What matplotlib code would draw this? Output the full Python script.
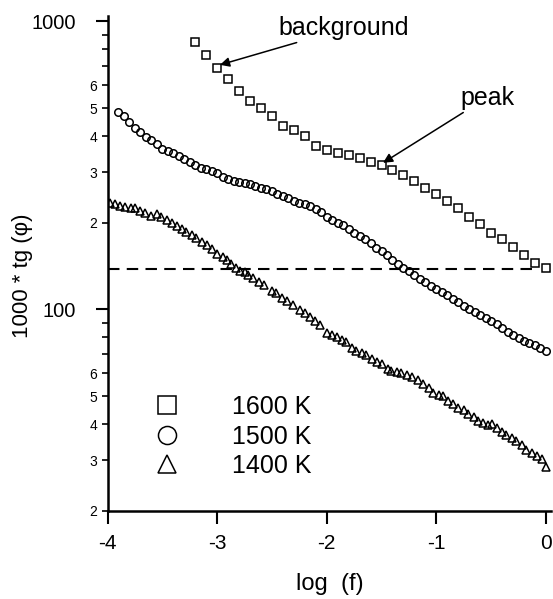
import matplotlib
matplotlib.use('Agg')
import matplotlib.pyplot as plt
from matplotlib.lines import Line2D
from matplotlib.ticker import FixedLocator, FixedFormatter

plt.rcParams['font.family'] = ['Liberation Sans', 'DejaVu Sans']

# ---------------- data ----------------
logf_1600 = [-3.2, -3.1, -3.0, -2.9, -2.8, -2.7, -2.6, -2.5, -2.4, -2.3, -2.2,
             -2.1, -2.0, -1.9, -1.8, -1.7, -1.6, -1.5, -1.4, -1.3, -1.2, -1.1,
             -1.0, -0.9, -0.8, -0.7, -0.6, -0.5, -0.4, -0.3, -0.2, -0.1, 0.0]
tg_1600 = [852, 766, 692, 631, 574, 529, 500, 469, 435, 420, 401,
           370, 358, 349, 344, 335, 326, 317, 305, 293, 280, 264,
           252, 238, 225, 210, 198, 185, 175, 165, 154, 145, 139]

logf_1500 = [-3.90, -3.85, -3.80, -3.75, -3.70, -3.65, -3.60, -3.55, -3.50, -3.45,
             -3.40, -3.35, -3.30, -3.25, -3.20, -3.15, -3.10, -3.05, -3.00, -2.95,
             -2.90, -2.85, -2.80, -2.75, -2.70, -2.65, -2.60, -2.55, -2.50, -2.45,
             -2.40, -2.35, -2.30, -2.25, -2.20, -2.15, -2.10, -2.05, -2.00, -1.95,
             -1.90, -1.85, -1.80, -1.75, -1.70, -1.65, -1.60, -1.55, -1.50, -1.45,
             -1.40, -1.35, -1.30, -1.25, -1.20, -1.15, -1.10, -1.05, -1.00, -0.95,
             -0.90, -0.85, -0.80, -0.75, -0.70, -0.65, -0.60, -0.55, -0.50, -0.45,
             -0.40, -0.35, -0.30, -0.25, -0.20, -0.15, -0.10, -0.05, 0.00]
tg_1500 = [486, 469, 447, 426, 412, 398, 387, 374, 362, 355,
           349, 340, 332, 325, 317, 310, 307, 302, 297, 288,
           283, 280, 276, 274, 272, 268, 265, 261, 257, 252,
           247, 243, 238, 235, 232, 228, 224, 218, 210, 204,
           200, 197, 191, 184, 180, 175, 170, 163, 159, 154,
           149, 144, 139, 136, 132, 128, 124.5, 120.7, 117.3, 114.8,
           112.1, 108.8, 106.3, 103.2, 100.4, 97.9, 95.4, 93.2, 91.1, 88.8,
           86.3, 83.4, 81.5, 79.6, 78.0, 76.3, 75.0, 73.3, 71.8]

logf_1400 = [-3.98, -3.93, -3.89, -3.84, -3.79, -3.75, -3.70, -3.66, -3.60, -3.55,
             -3.51, -3.46, -3.41, -3.37, -3.32, -3.28, -3.23, -3.19, -3.14, -3.09,
             -3.05, -3.00, -2.95, -2.91, -2.87, -2.83, -2.79, -2.75, -2.72, -2.67,
             -2.62, -2.57, -2.50, -2.46, -2.41, -2.36, -2.31, -2.24, -2.20, -2.15,
             -2.11, -2.06, -2.00, -1.95, -1.91, -1.86, -1.82, -1.77, -1.73, -1.68,
             -1.64, -1.59, -1.54, -1.50, -1.44, -1.41, -1.36, -1.32, -1.27, -1.22,
             -1.17, -1.12, -1.07, -1.03, -0.98, -0.94, -0.89, -0.85, -0.80, -0.75,
             -0.71, -0.66, -0.62, -0.57, -0.53, -0.49, -0.45, -0.40, -0.36, -0.31,
             -0.27, -0.22, -0.18, -0.13, -0.08, -0.04, 0.00]
tg_1400 = [235, 233, 229, 227, 225, 225, 220, 216, 211, 215,
           209, 205, 199, 195, 190, 186, 181.5, 176.8, 172, 167.5,
           161.9, 155.9, 151.9, 148.6, 143.9, 139.1, 136.4, 135.3, 131.8, 128.4,
           124.9, 121.7, 116.2, 113.8, 109.4, 107.3, 103.6, 99.2, 97.0, 94.4,
           91.4, 88.3, 83.1, 81.5, 80.1, 78.3, 77.3, 73.3, 71.9, 70.8,
           69.5, 67.1, 65.8, 64.7, 62.0, 61.3, 60.8, 60.0, 59.2, 58.4,
           56.9, 55.1, 53.2, 51.1, 50.5, 50.0, 48.1, 46.8, 45.5, 44.8,
           43.4, 42.2, 41.0, 40.2, 39.7, 40.0, 38.7, 37.5, 36.6, 35.8,
           34.9, 33.7, 32.6, 31.7, 31.0, 30.2, 28.3]

series_labels = ['1600 K', '1500 K', '1400 K']
dashed_level = 138
dashed_span = [-4.0, -0.08]

y_major = [100, 1000]
y_minor = [20, 30, 40, 50, 60, 70, 80, 90, 200, 300, 400, 500, 600, 700, 800, 900]
y_minor_labels = ['2', '3', '4', '5', '6', '', '', '', '2', '3', '4', '5', '6', '', '', '']
x_ticks = [-4, -3, -2, -1, 0]

# ---------------- figure ----------------
fig = plt.figure(figsize=(5.53, 5.99), dpi=100)
ax = fig.add_axes([0.1944, 0.1474, 0.8027, 0.8259])
ax.set_yscale('log')
ax.set_xlim(-4, 0.05)
ax.set_ylim(20, 1045)

mk = dict(ls='none', mfc='none', mec='black')
ax.plot(logf_1600, tg_1600, marker='s', ms=5.6, mew=1.1, **mk)
ax.plot(logf_1500, tg_1500, marker='o', ms=5.4, mew=1.1, **mk)
ax.plot(logf_1400, tg_1400, marker='^', ms=5.4, mew=1.1, **mk)

ax.plot(dashed_span, [dashed_level, dashed_level], color='black', lw=1.5,
        dashes=(5.5, 3.5))

for s in ('top', 'right'):
    ax.spines[s].set_visible(False)
for s in ('left', 'bottom'):
    ax.spines[s].set_linewidth(1.8)

ax.yaxis.set_major_locator(FixedLocator(y_major))
ax.yaxis.set_major_formatter(FixedFormatter([str(v) for v in y_major]))
ax.yaxis.set_minor_locator(FixedLocator(y_minor))
ax.yaxis.set_minor_formatter(FixedFormatter(y_minor_labels))
ax.set_xticks(x_ticks)
ax.set_xticklabels([str(v) for v in x_ticks])

ax.tick_params(axis='y', which='major', length=8.5, width=1.5, labelsize=14.5, pad=14)
ax.tick_params(axis='y', which='minor', length=4.5, width=1.2, labelsize=10, pad=3)
ax.tick_params(axis='x', which='major', length=9, width=1.5, labelsize=15, pad=8)
ax.tick_params(axis='x', which='minor', length=0)

ax.set_xlabel('log  (f)', fontsize=17, labelpad=14)
ax.set_ylabel('1000 * tg (\u03c6)', fontsize=16)
ax.yaxis.set_label_coords(-0.168, 0.474)

# annotations
ax.annotate('', xy=(-2.974, 707), xytext=(-2.274, 845),
            arrowprops=dict(arrowstyle='-|>', color='black', lw=1.1, mutation_scale=14,
                            shrinkA=0, shrinkB=0))
ax.text(-2.444, 951, 'background', fontsize=18, ha='left', va='center')
ax.annotate('', xy=(-1.486, 323), xytext=(-0.754, 483),
            arrowprops=dict(arrowstyle='-|>', color='black', lw=1.1, mutation_scale=14,
                            shrinkA=0, shrinkB=0))
ax.text(-0.784, 543, 'peak', fontsize=18, ha='left', va='center')

handles = [Line2D([], [], ls='none', marker='s', ms=13, mfc='none', mec='black', mew=1.1),
           Line2D([], [], ls='none', marker='o', ms=13, mfc='none', mec='black', mew=1.1),
           Line2D([], [], ls='none', marker='^', ms=13, mfc='none', mec='black', mew=1.1)]
ax.legend(handles, series_labels, loc='center left', bbox_to_anchor=(0.0777, 0.1496),
          frameon=False, fontsize=18, handlelength=2.0, handletextpad=1.62,
          labelspacing=0.22, borderpad=0, borderaxespad=0)

fig.savefig('out.png', dpi=100)
